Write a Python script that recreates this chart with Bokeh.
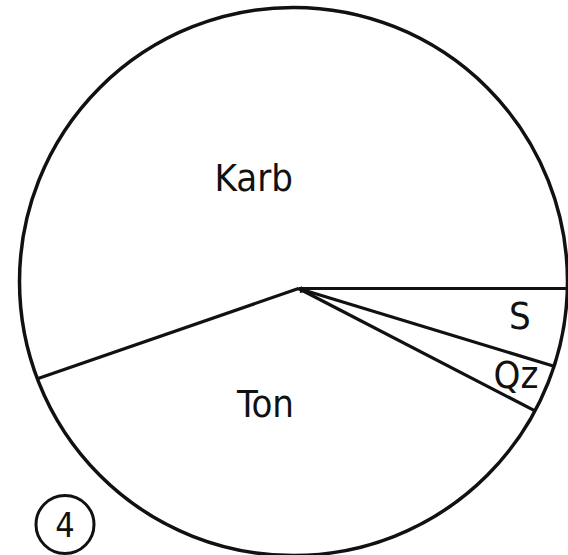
import numpy as np
from bokeh.plotting import figure
from bokeh.models import Range1d
from bokeh.core.properties import value
from bokeh.embed import file_html
from bokeh.resources import INLINE

# ---- data (percent shares, counter-clockwise from the horizontal) ----
categories = ["Karb", "Ton", "Qz", "S"]
shares = [55.3, 37.1, 2.9, 4.7]
figure_no = "4"

# ---- layout (page pixels, y negated) ----
W, H = 568, 555
CX, CY, R = 293.0, -281.0, 274.0      # outline circle
VX, VY = 298.0, -288.0                # pie vertex
label_shift = {"Karb": 12.5, "Ton": -11.8, "Qz": 0.5, "S": 1.5}   # deg from mid-angle
label_dist = {"Karb": 119, "Ton": 120, "Qz": 234, "S": 223}
INK = "#111111"
FONT = "DejaVu Sans Condensed"

p = figure(width=W, height=H, output_backend="svg", toolbar_location=None,
           x_range=Range1d(0, W), y_range=Range1d(-H, 0),
           x_axis_type=None, y_axis_type=None, min_border=0,
           background_fill_color="white", border_fill_color="white")
p.grid.visible = False
p.outline_line_color = None

# outline circle
p.circle(x=[CX], y=[CY], radius=R, fill_color=None, line_color=INK, line_width=3.5)

# boundaries
cum = np.concatenate([[0.0], np.cumsum(shares)])
bounds = cum[:-1] / cum[-1] * 360.0
ox, oy = VX - CX, VY - CY
x1, y1 = [], []
for a in bounds:
    d = np.array([np.cos(np.radians(a)), np.sin(np.radians(a))])
    od = ox * d[0] + oy * d[1]
    t = -od + np.sqrt(od ** 2 - (ox ** 2 + oy ** 2 - R ** 2))
    x1.append(VX + t * d[0])
    y1.append(VY + t * d[1])
p.segment(x0=[VX] * len(bounds), y0=[VY] * len(bounds), x1=x1, y1=y1,
          line_color=INK, line_width=3.2)
p.scatter(x=[VX + 4], y=[VY - 1.5], size=6, marker="triangle", angle=np.radians(-100),
          fill_color=INK, line_color=INK)

# labels
mids = (cum[:-1] + cum[1:]) / 2 / cum[-1] * 360.0
lx, ly = [], []
for c, m in zip(categories, mids):
    a = np.radians(m + label_shift[c])
    lx.append(VX + label_dist[c] * np.cos(a))
    ly.append(VY + label_dist[c] * np.sin(a))
p.text(x=lx, y=ly, text=categories, text_align="center", text_baseline="middle",
       text_font=value(FONT), text_font_size="38px", text_color=INK)

# figure number in a small circle
p.circle(x=[64.5], y=[-524], radius=29, fill_color=None, line_color=INK, line_width=3)
p.text(x=[64.5], y=[-524], text=[figure_no], text_align="center", text_baseline="middle",
       text_font=value(FONT), text_font_size="34px", text_color=INK)

open("out.html", "w").write(file_html(p, INLINE))
